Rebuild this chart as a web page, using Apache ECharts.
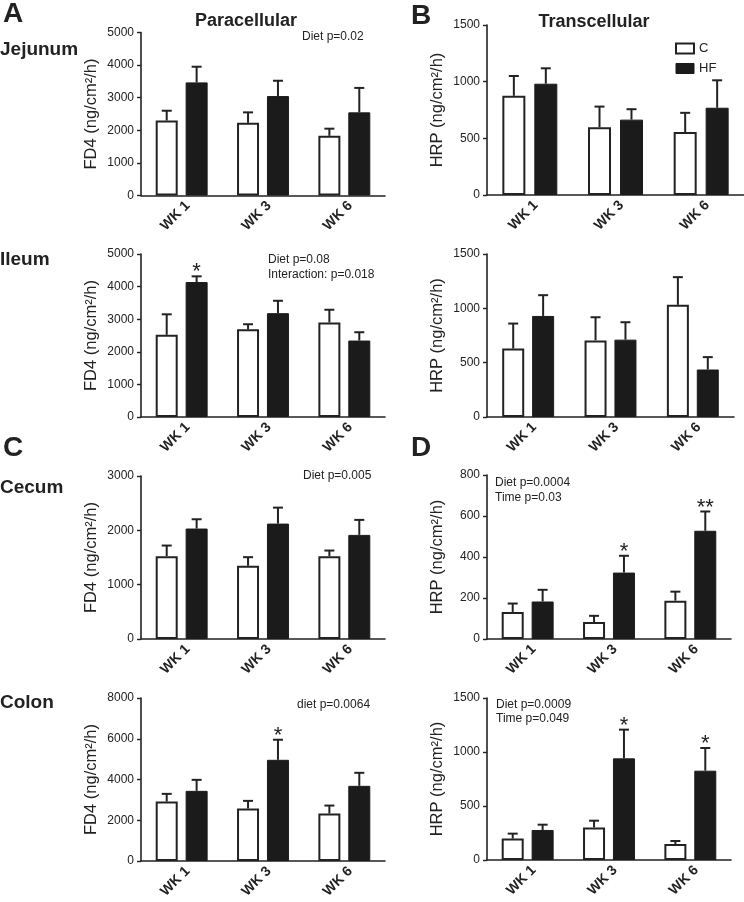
<!DOCTYPE html>
<html><head><meta charset="utf-8">
<script src="https://cdn.jsdelivr.net/npm/echarts@6/dist/echarts.min.js"></script>
<style>html,body{margin:0;padding:0;background:#fff}#c{width:744px;height:902px}</style>
</head><body><div id="c"></div>
<script>
// ---- data ----
const weeks = ['WK 1', 'WK 3', 'WK 6'];
const seriesNames = ['C', 'HF'];

// Jejunum, FD4 (paracellular)
const jejFD4C = [2300, 2230, 1830];
const jejFD4CErr = [2600, 2550, 2050];
const jejFD4HF = [3470, 3050, 2550];
const jejFD4HFErr = [3950, 3520, 3300];
// Jejunum, HRP (transcellular)
const jejHRPC = [875, 598, 555];
const jejHRPCErr = [1050, 780, 725];
const jejHRPHF = [982, 665, 770];
const jejHRPHFErr = [1118, 757, 1012];
// Ileum, FD4
const ilFD4C = [2520, 2690, 2900];
const ilFD4CErr = [3150, 2845, 3290];
const ilFD4HF = [4140, 3185, 2345];
const ilFD4HFErr = [4315, 3565, 2600];
const ilFD4Stars = ['*', '', ''];
// Ileum, HRP
const ilHRPC = [630, 705, 1032];
const ilHRPCErr = [860, 918, 1287];
const ilHRPHF = [930, 712, 437];
const ilHRPHFErr = [1121, 872, 551];
// Cecum, FD4
const ceFD4C = [1525, 1347, 1524];
const ceFD4CErr = [1720, 1506, 1628];
const ceFD4HF = [2033, 2124, 1916];
const ceFD4HFErr = [2204, 2418, 2192];
// Cecum, HRP
const ceHRPC = [132, 83, 187];
const ceHRPCErr = [173, 113, 231];
const ceHRPHF = [183, 324, 528];
const ceHRPHFErr = [240, 406, 622];
const ceHRPStars = ['', '*', '**'];
// Colon, FD4
const coFD4C = [2918, 2574, 2328];
const coFD4CErr = [3295, 2951, 2721];
const coFD4HF = [3443, 4967, 3689];
const coFD4HFErr = [3983, 5951, 4328];
const coFD4Stars = ['', '*', ''];
// Colon, HRP
const coHRPC = [198, 302, 148];
const coHRPCErr = [244, 364, 176];
const coHRPHF = [278, 941, 827];
const coHRPHFErr = [327, 1207, 1037];
const coHRPStars = ['', '*', '*'];

const fd4Name = 'FD4 (ng/cm²/h)';
const hrpName = 'HRP (ng/cm²/h)';

// ---- layout ----
const FONT = '"Liberation Sans", Arial, Helvetica, sans-serif';
const INK = '#222';
const panels = [
  {grid:{left:141,top:32.5,width:244,height:163}, max:5000, step:1000, name:fd4Name, c:jejFD4C, ce:jejFD4CErr, h:jejFD4HF, he:jejFD4HFErr, stars:null, bw:22, gap:0.36},
  {grid:{left:487,top:25,width:257,height:170}, max:1500, step:500, name:hrpName, c:jejHRPC, ce:jejHRPCErr, h:jejHRPHF, he:jejHRPHFErr, stars:null, bw:23, gap:0.39},
  {grid:{left:141,top:254,width:244,height:163}, max:5000, step:1000, name:fd4Name, c:ilFD4C, ce:ilFD4CErr, h:ilFD4HF, he:ilFD4HFErr, stars:ilFD4Stars, bw:22, gap:0.36},
  {grid:{left:487,top:254,width:247,height:163}, max:1500, step:500, name:hrpName, c:ilHRPC, ce:ilHRPCErr, h:ilHRPHF, he:ilHRPHFErr, stars:null, bw:22, gap:0.36},
  {grid:{left:141,top:476,width:244,height:163}, max:3000, step:1000, name:fd4Name, c:ceFD4C, ce:ceFD4CErr, h:ceFD4HF, he:ceFD4HFErr, stars:null, bw:22, gap:0.36},
  {grid:{left:487,top:475,width:244,height:164}, max:800, step:200, name:hrpName, c:ceHRPC, ce:ceHRPCErr, h:ceHRPHF, he:ceHRPHFErr, stars:ceHRPStars, bw:22, gap:0.36},
  {grid:{left:141,top:698,width:244,height:163}, max:8000, step:2000, name:fd4Name, c:coFD4C, ce:coFD4CErr, h:coFD4HF, he:coFD4HFErr, stars:coFD4Stars, bw:22, gap:0.36},
  {grid:{left:487,top:698,width:244,height:162}, max:1500, step:500, name:hrpName, c:coHRPC, ce:coHRPCErr, h:coHRPHF, he:coHRPHFErr, stars:coHRPStars, bw:22, gap:0.36}
];

const grids = [], xAxes = [], yAxes = [], series = [];
panels.forEach((p, i) => {
  grids.push(Object.assign({containLabel:false}, p.grid));
  xAxes.push({
    type:'category', gridIndex:i, data:weeks,
    axisLine:{show:true, lineStyle:{color:INK, width:1.6}},
    axisTick:{show:false},
    axisLabel:{rotate:45, interval:0, margin:14, align:'center', padding:[0,18,0,0],
      color:INK, fontFamily:FONT, fontWeight:'bold', fontSize:14}
  });
  yAxes.push({
    type:'value', gridIndex:i, min:0, max:p.max, interval:p.step,
    name:p.name, nameLocation:'middle', nameGap:41,
    nameTextStyle:{fontFamily:FONT, fontSize:16.5, color:INK},
    axisLine:{show:true, lineStyle:{color:INK, width:1.6}},
    axisTick:{show:true, inside:false, length:4, lineStyle:{color:INK, width:1.4}},
    axisLabel:{margin:7, color:INK, fontFamily:FONT, fontSize:12, formatter:(v) => String(v)},
    splitLine:{show:false}
  });
  series.push({
    name:'C', type:'bar', xAxisIndex:i, yAxisIndex:i, data:p.c,
    barWidth:p.bw, barGap:(p.gap*100)+'%',
    itemStyle:{color:'#fff', borderColor:INK, borderWidth:2}, silent:true, animation:false
  });
  series.push({
    name:'HF', type:'bar', xAxisIndex:i, yAxisIndex:i, data:p.h,
    barWidth:p.bw, barGap:(p.gap*100)+'%',
    itemStyle:{color:'#1b1b1b', borderColor:'#1b1b1b', borderWidth:1}, silent:true, animation:false
  });
  const off = p.bw * (1 + p.gap) / 2;
  const errData = [];
  weeks.forEach((w, k) => {
    errData.push([k, p.c[k], p.ce[k], -off, '']);
    errData.push([k, p.h[k], p.he[k], off, p.stars ? p.stars[k] : '']);
  });
  series.push({
    type:'custom', xAxisIndex:i, yAxisIndex:i, data:errData, silent:true, animation:false, z:3,
    renderItem:(params, api) => {
      const k = api.value(0), v = api.value(1), e = api.value(2), o = api.value(3);
      const star = errData[params.dataIndex][4];
      const p0 = api.coord([k, v]), p1 = api.coord([k, e]);
      const x = p0[0] + o;
      const ch = [
        {type:'line', shape:{x1:x, y1:p0[1], x2:x, y2:p1[1]}, style:{stroke:INK, lineWidth:2}},
        {type:'line', shape:{x1:x-5, y1:p1[1], x2:x+5, y2:p1[1]}, style:{stroke:INK, lineWidth:2}}
      ];
      if (star) ch.push({type:'text', style:{text:star, x:x, y:p1[1]-4, align:'center', verticalAlign:'middle', font:'22px ' + FONT, fill:INK}});
      return {type:'group', children:ch};
    }
  });
});

function txt(x, y, text, size, weight, align) {
  return {type:'text', x:x, y:y, style:{text:text, font:(weight||'normal') + ' ' + size + 'px ' + FONT, fill:INK, align:align||'left', verticalAlign:'middle'}, silent:true};
}

const graphic = [
  txt(3, 14, 'A', 28, 'bold'),
  txt(411, 16, 'B', 28, 'bold'),
  txt(3, 448, 'C', 28, 'bold'),
  txt(411, 448, 'D', 28, 'bold'),
  txt(246, 21, 'Paracellular', 18, 'bold', 'center'),
  txt(594, 22, 'Transcellular', 18, 'bold', 'center'),
  txt(0, 50, 'Jejunum', 19, 'bold'),
  txt(0, 260, 'Ileum', 19, 'bold'),
  txt(0, 488, 'Cecum', 19, 'bold'),
  txt(0, 703, 'Colon', 19, 'bold'),
  txt(302, 37, 'Diet p=0.02', 12),
  txt(268, 260, 'Diet p=0.08', 12),
  txt(268, 275, 'Interaction: p=0.018', 12),
  txt(303, 476, 'Diet p=0.005', 12),
  txt(297, 705, 'diet p=0.0064', 12),
  txt(495, 483, 'Diet p=0.0004', 12),
  txt(495, 498, 'Time p=0.03', 12),
  txt(496, 705, 'Diet p=0.0009', 12),
  txt(496, 719, 'Time p=0.049', 12)
];

const chart = echarts.init(document.getElementById('c'), null, {renderer:'canvas'});
chart.setOption({
  backgroundColor:'#fff',
  animation:false,
  legend:{
    data:[
      {name:'C', itemStyle:{color:'#fff', borderColor:INK, borderWidth:2}},
      {name:'HF', itemStyle:{color:'#1b1b1b', borderColor:'#1b1b1b', borderWidth:1}}
    ],
    orient:'vertical', left:670, top:37, itemWidth:18, itemHeight:10, itemGap:7,
    icon:'rect', selectedMode:false,
    textStyle:{fontFamily:FONT, fontSize:13, color:INK}
  },
  grid:grids, xAxis:xAxes, yAxis:yAxes, series:series, graphic:graphic
});
</script>
</body></html>
